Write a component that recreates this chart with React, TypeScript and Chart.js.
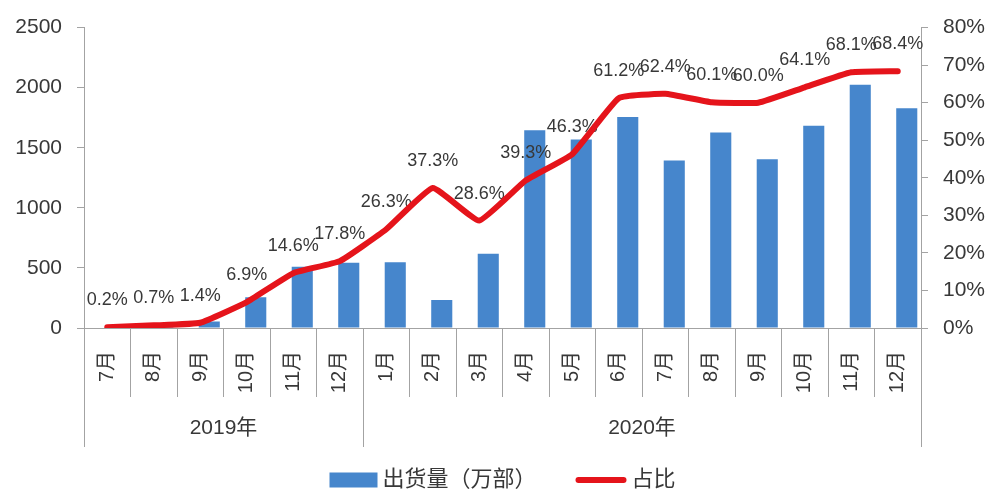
import React, { useEffect, useRef } from 'react';
import { Chart, registerables } from 'chart.js';

Chart.register(...registerables);

// ---- data ----
const months = ['7月', '8月', '9月', '10月', '11月', '12月', '1月', '2月', '3月', '4月', '5月', '6月', '7月', '8月', '9月', '10月', '11月', '12月'];
const years = ['2019年', '2020年'];
const yearSpans = [6, 12];
const shipments = [5, 20, 55, 256, 509, 542, 548, 234, 618, 1645, 1569, 1757, 1394, 1626, 1405, 1683, 2024, 1828];
const shares = [0.2, 0.7, 1.4, 6.9, 14.6, 17.8, 26.3, 37.3, 28.6, 39.3, 46.3, 61.2, 62.4, 60.1, 60.0, 64.1, 68.1, 68.4];
const seriesNames = ['出货量（万部）', '占比'];
const leftMax = 2500;
const leftStep = 500;
const rightMax = 80;
const rightStep = 10;

// ---- styles ----
const FONT = '"Liberation Sans", "Noto Sans CJK SC", sans-serif';
const textColor = '#383838';
const axisColor = '#a3a3a3';
const barColor = '#4686cc';
const lineColor = '#e5141b';

const shareLabelsPlugin = {
  id: 'shareLabels',
  afterDatasetDraw(chart: any, args: any) {
    if (args.index !== 1) return;
    const meta = chart.getDatasetMeta(2);
    const ctx = chart.ctx;
    ctx.save();
    ctx.font = `18px ${FONT}`;
    ctx.fillStyle = textColor;
    ctx.textAlign = 'center';
    ctx.textBaseline = 'middle';
    meta.data.forEach((pt: any, i: number) => {
      ctx.fillText(shares[i].toFixed(1) + '%', pt.x, pt.y - 27);
    });
    ctx.restore();
  },
};

const yearAxisPlugin = {
  id: 'yearAxis',
  afterDraw(chart: any) {
    const x = chart.scales.x;
    const ctx = chart.ctx;
    const half = (x.getPixelForTick(1) - x.getPixelForTick(0)) / 2;
    const edge = (k: number) =>
      k < months.length ? x.getPixelForTick(k) - half : x.getPixelForTick(months.length - 1) + half;
    ctx.save();
    ctx.strokeStyle = axisColor;
    ctx.lineWidth = 1;
    let k = 0;
    const bounds = [0];
    yearSpans.forEach((s) => {
      k += s;
      bounds.push(k);
    });
    bounds.forEach((b) => {
      const px = Math.round(edge(b)) + 0.5;
      ctx.beginPath();
      ctx.moveTo(px, x.top);
      ctx.lineTo(px, x.bottom);
      ctx.stroke();
    });
    ctx.font = `21px ${FONT}`;
    ctx.fillStyle = textColor;
    ctx.textAlign = 'center';
    ctx.textBaseline = 'middle';
    years.forEach((yr, i) => {
      const cx = (edge(bounds[i]) + edge(bounds[i + 1])) / 2;
      ctx.fillText(yr, cx, x.top + 100);
    });
    ctx.restore();
  },
};

const legendPlugin = {
  id: 'customLegend',
  afterDraw(chart: any) {
    const ctx = chart.ctx;
    ctx.save();
    ctx.font = `22px ${FONT}`;
    const w1 = ctx.measureText(seriesNames[0]).width;
    const w2 = ctx.measureText(seriesNames[1]).width;
    const boxW = 48;
    const boxH = 15;
    const gap = 5;
    const itemGap = 39;
    const lineW = 51;
    const total = boxW + gap + w1 + itemGap + lineW + gap + w2;
    const area = chart.chartArea;
    let x0 = (area.left + area.right) / 2 - total / 2;
    const cy = chart.height - 16;
    ctx.fillStyle = barColor;
    ctx.fillRect(x0, cy - boxH / 2, boxW, boxH);
    ctx.fillStyle = textColor;
    ctx.textAlign = 'left';
    ctx.textBaseline = 'middle';
    ctx.fillText(seriesNames[0], x0 + boxW + gap, cy);
    const x1 = x0 + boxW + gap + w1 + itemGap;
    ctx.strokeStyle = lineColor;
    ctx.lineWidth = 6;
    ctx.lineCap = 'round';
    ctx.beginPath();
    ctx.moveTo(x1 + 3, cy);
    ctx.lineTo(x1 + lineW - 3, cy);
    ctx.stroke();
    ctx.fillStyle = textColor;
    ctx.fillText(seriesNames[1], x1 + lineW + gap, cy);
    ctx.restore();
  },
};

export default function App() {
  const canvasRef = useRef<HTMLCanvasElement | null>(null);

  useEffect(() => {
    document.body.style.margin = '0';
    document.body.style.overflow = 'hidden';
    const canvas = canvasRef.current;
    if (!canvas) return;
    const chart = new Chart(canvas, {
      type: 'bar',
      data: {
        labels: months,
        datasets: [
          {
            type: 'bar',
            label: '',
            data: [],
            backgroundColor: barColor,
            yAxisID: 'y',
            order: 1,
            barPercentage: 1.17,
            categoryPercentage: 0.775,
          },
          {
            type: 'bar',
            label: seriesNames[0],
            data: shipments,
            backgroundColor: barColor,
            yAxisID: 'y',
            order: 1,
            barPercentage: 1.17,
            categoryPercentage: 0.775,
          },
          {
            type: 'line',
            label: seriesNames[1],
            data: shares,
            borderColor: lineColor,
            backgroundColor: lineColor,
            borderWidth: 6,
            pointRadius: 0,
            tension: 0.12,
            borderCapStyle: 'round',
            borderJoinStyle: 'round',
            yAxisID: 'y1',
            order: 0,
          } as any,
        ],
      },
      options: {
        responsive: false,
        animation: false,
        layout: { padding: { top: 22, bottom: 49, left: 0, right: 0 } },
        plugins: {
          legend: { display: false },
          tooltip: { enabled: false },
        },
        scales: {
          x: {
            type: 'category',
            grid: {
              offset: true,
              drawOnChartArea: false,
              drawTicks: true,
              tickLength: 69,
              color: axisColor,
            },
            border: { color: axisColor },
            ticks: {
              autoSkip: false,
              minRotation: 90,
              maxRotation: 90,
              padding: -46,
              color: textColor,
              font: { size: 20, family: FONT },
            },
            afterFit: (s: any) => {
              s.height = 119;
            },
          },
          y: {
            position: 'left',
            min: 0,
            max: leftMax,
            ticks: {
              stepSize: leftStep,
              padding: 15,
              color: textColor,
              font: { size: 21, family: FONT },
              callback: (v: any) => String(v),
            },
            grid: { drawOnChartArea: false, tickLength: 7, color: axisColor },
            border: { color: axisColor },
            afterFit: (s: any) => {
              s.width = 84;
            },
          },
          y1: {
            position: 'right',
            min: 0,
            max: rightMax,
            ticks: {
              stepSize: rightStep,
              padding: 15,
              color: textColor,
              font: { size: 21, family: FONT },
              callback: (v: any) => v + '%',
            },
            grid: { drawOnChartArea: false, tickLength: 7, color: axisColor },
            border: { color: axisColor },
            afterFit: (s: any) => {
              s.width = 79;
            },
          },
        },
      } as any,
      plugins: [shareLabelsPlugin, yearAxisPlugin, legendPlugin],
    });
    return () => chart.destroy();
  }, []);

  return (
    <div style={{ width: 1000, height: 496 }}>
      <canvas ref={canvasRef} width={1000} height={496} style={{ display: 'block' }} />
    </div>
  );
}
